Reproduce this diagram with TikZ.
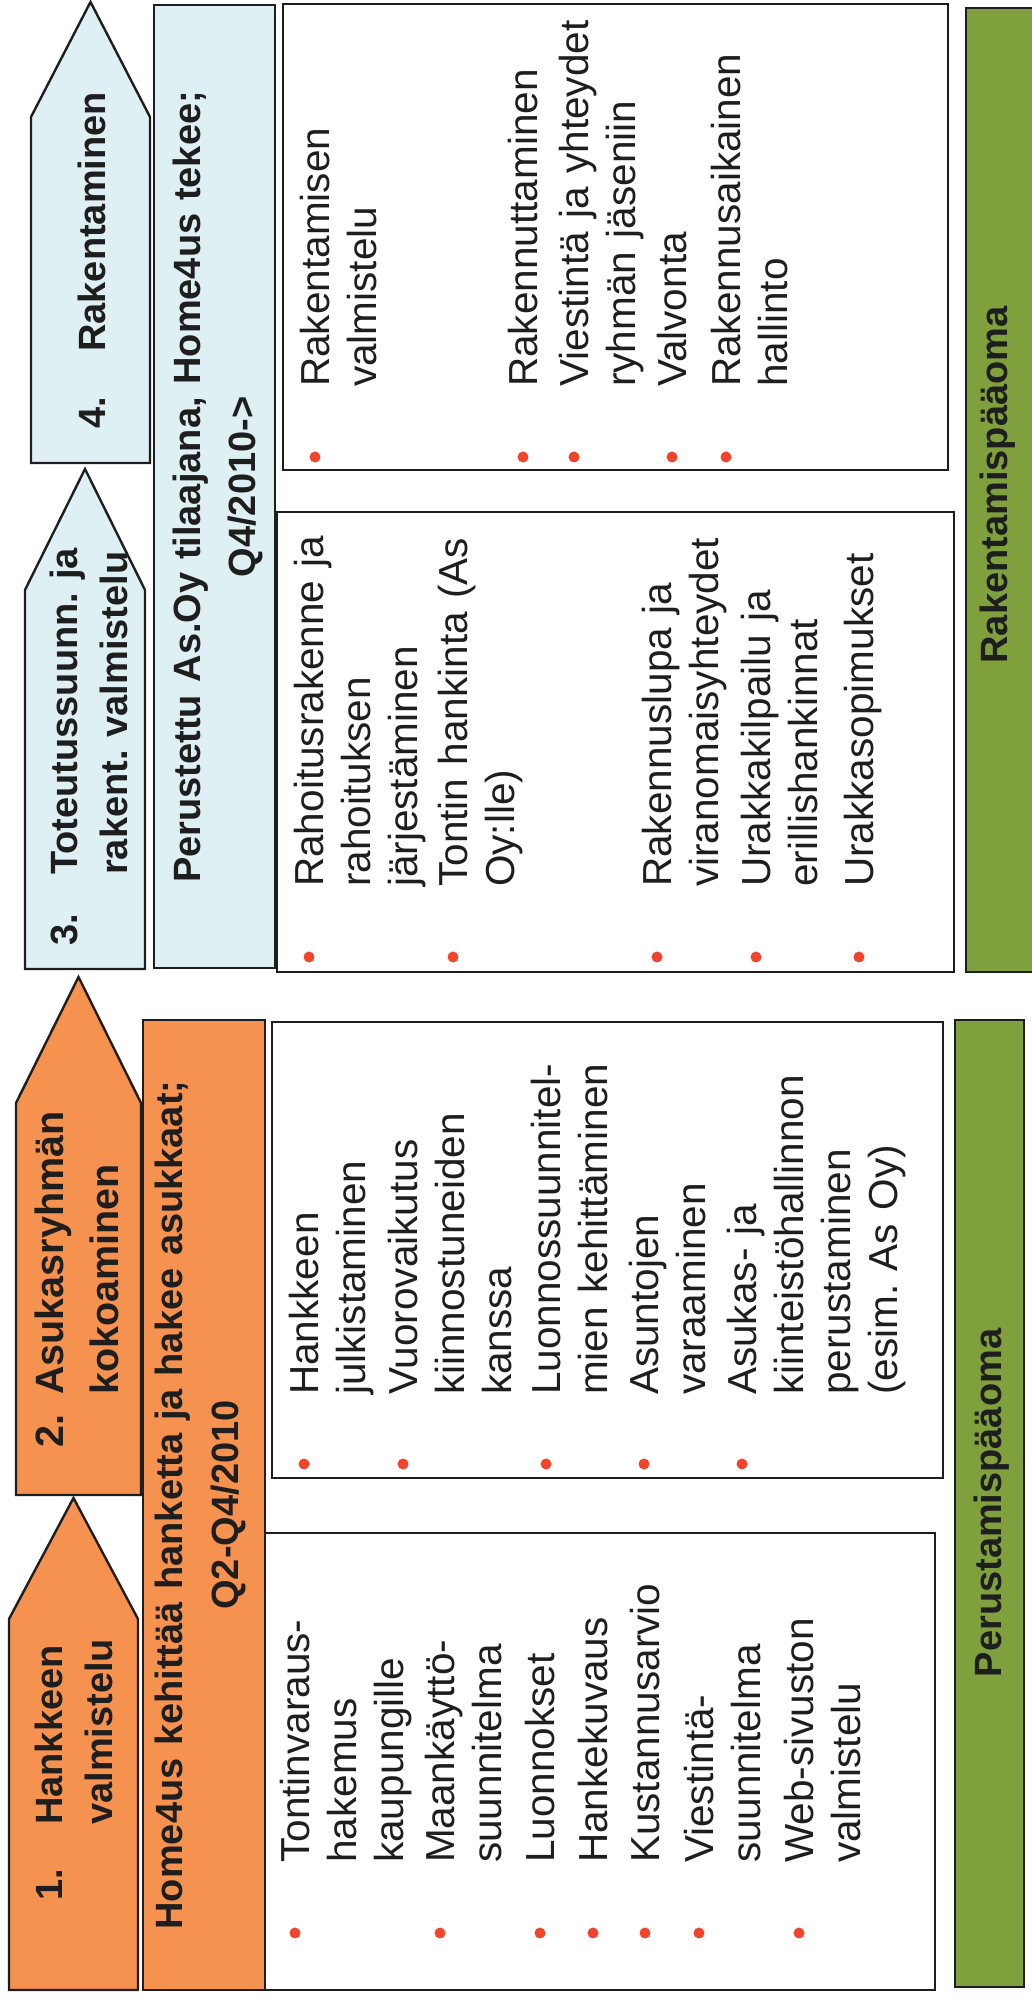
\documentclass[tikz,border=0pt]{standalone}
\usepackage{fontspec}
\setmainfont{Liberation Sans}
\frenchspacing
\definecolor{corange}{HTML}{F5924F}
\definecolor{cblue}{HTML}{DFF0F4}
\definecolor{cgreen}{HTML}{7FA03C}
\definecolor{cred}{HTML}{F2432B}
\definecolor{cink}{HTML}{1E1E1E}
\tikzset{
  every picture/.style={line width=2.4pt},
  phase/.style={draw=cink, fill=#1, line join=miter},
  panel/.style={draw=cink, fill=white},
  bar/.style={draw=cink, fill=cgreen},
  head/.style={font=\bfseries\fontsize{38}{50}\selectfont, text=cink, inner sep=0pt, anchor=base west, align=left, text width=560pt},
  banner/.style={font=\bfseries\fontsize{38}{56}\selectfont, text=cink, inner sep=0pt, anchor=base, align=center, text width=960pt},
  item/.style={font=\fontsize{40.5}{47}\selectfont, text=cink, inner sep=0pt, anchor=base west, align=left, text width=380pt},
  dot/.style={fill=cred},
  barlabel/.style={font=\bfseries\fontsize{38}{46}\selectfont, text=cink, inner sep=0pt, anchor=base},
}

\begin{document}
\begin{tikzpicture}[x=1pt, y=1pt]
  \useasboundingbox (0,0) rectangle (1032,1999);
  \begin{scope}[shift={(1032,0)}, rotate=90, transform shape]
  % phase arrows
  \draw[phase=corange] (9,894) -- (380,894) -- (501,958.5) -- (380,1023) -- (9,1023) -- cycle;
  \draw[phase=corange] (504,891) -- (896,891) -- (1022,953.5) -- (896,1016) -- (504,1016) -- cycle;
  \draw[phase=cblue] (1030,887) -- (1409,887) -- (1530,947) -- (1409,1007) -- (1030,1007) -- cycle;
  \draw[phase=cblue] (1536,882) -- (1882,882) -- (1997,941.5) -- (1882,1001) -- (1536,1001) -- cycle;
  \node[head] (ph1) at (97,970) {\makebox[76pt][l]{1.}Hankkeen\\\hspace*{76pt}valmistelu};
  \node[head, font=\bfseries\fontsize{39.5}{55}\selectfont] (ph2) at (550,969) {\makebox[53pt][l]{2.}Asukasryhmän\\\hspace*{53pt}kokoaminen};
  \node[head] (ph3) at (1052,955) {\makebox[71pt][l]{3.}Toteutussuunn. ja\\\hspace*{71pt}rakent. valmistelu};
  \node[head] (ph4) at (1569,927) {\makebox[77pt][l]{4.}Rakentaminen};
  % who does the work
  \draw[phase=corange] (9,767) rectangle (979,889);
  \draw[phase=cblue] (1031,757) rectangle (1994,878);
  \node[banner] (who1) at (494,850) {Home4us kehittää hanketta ja hakee asukkaat;\\Q2-Q4/2010};
  \node[banner, font=\bfseries\fontsize{38}{55}\selectfont] (who2) at (1512,832) {Perustettu As.Oy tilaajana, Home4us tekee;\\Q4/2010->};
  % task panels
  \draw[panel] (9,97) rectangle (466,767);
  \draw[panel] (521,89) rectangle (977,760);
  \draw[panel] (1027,78) rectangle (1487,755);
  \draw[panel] (1529,84) rectangle (1995,749);
  \foreach \yy/\txt [count=\i] in {737/{Tontinvaraus-\\hakemus\\kaupungille}, 592/{Maankäyttö-\\suunnitelma},
      492/{Luonnokset}, 439/{Hankekuvaus}, 387/{Kustannusarvio}, 333/{Viestintä-\\suunnitelma},
      233/{Web-sivuston\\valmistelu}} {
    \fill[dot] (66,\yy) circle (5.5);
    \node[item] (taskA-\i) at (135,\yy-14.5) {\txt};
  }
  \foreach \yy/\txt [count=\i] in {728/{Hankkeen\\julkistaminen}, 629/{Vuorovaikutus\\kiinnostuneiden\\kanssa},
      486/{Luonnossuunnitel-\\mien kehittäminen}, 388/{Asuntojen\\varaaminen},
      290/{Asukas- ja\\kiinteistöhallinnon\\perustaminen\\(esim. As Oy)}} {
    \fill[dot] (535,\yy) circle (5.5);
    \node[item] (taskB-\i) at (603,\yy-14.5) {\txt};
  }
  \foreach \yy/\txt [count=\i] in {723/{Rahoitusrakenne ja\\rahoituksen\\järjestäminen}, 579/{Tontin hankinta (As\\Oy:lle)},
      375/{Rakennuslupa ja\\viranomaisyhteydet}, 276/{Urakkakilpailu ja\\erillishankinnat},
      173/{Urakkasopimukset}} {
    \fill[dot] (1042,\yy) circle (5.5);
    \node[item] (taskC-\i) at (1111,\yy-14.5) {\txt};
  }
  \foreach \yy/\txt [count=\i] in {717/{Rakentamisen\\valmistelu}, 509/{Rakennuttaminen},
      458/{Viestintä ja yhteydet\\ryhmän jäseniin}, 360/{Valvonta}, 306/{Rakennusaikainen\\hallinto}} {
    \fill[dot] (1542,\yy) circle (5.5);
    \node[item] (taskD-\i) at (1611,\yy-14.5) {\txt};
  }
  % capital bars
  \draw[bar] (12,8) rectangle (979,77);
  \draw[bar] (1027,-4) rectangle (1991,66);
  \node[barlabel] (cap1) at (496,31) {Perustamispääoma};
  \node[barlabel] (cap2) at (1514,25) {Rakentamispääoma};
  \end{scope}
\end{tikzpicture}
\end{document}
